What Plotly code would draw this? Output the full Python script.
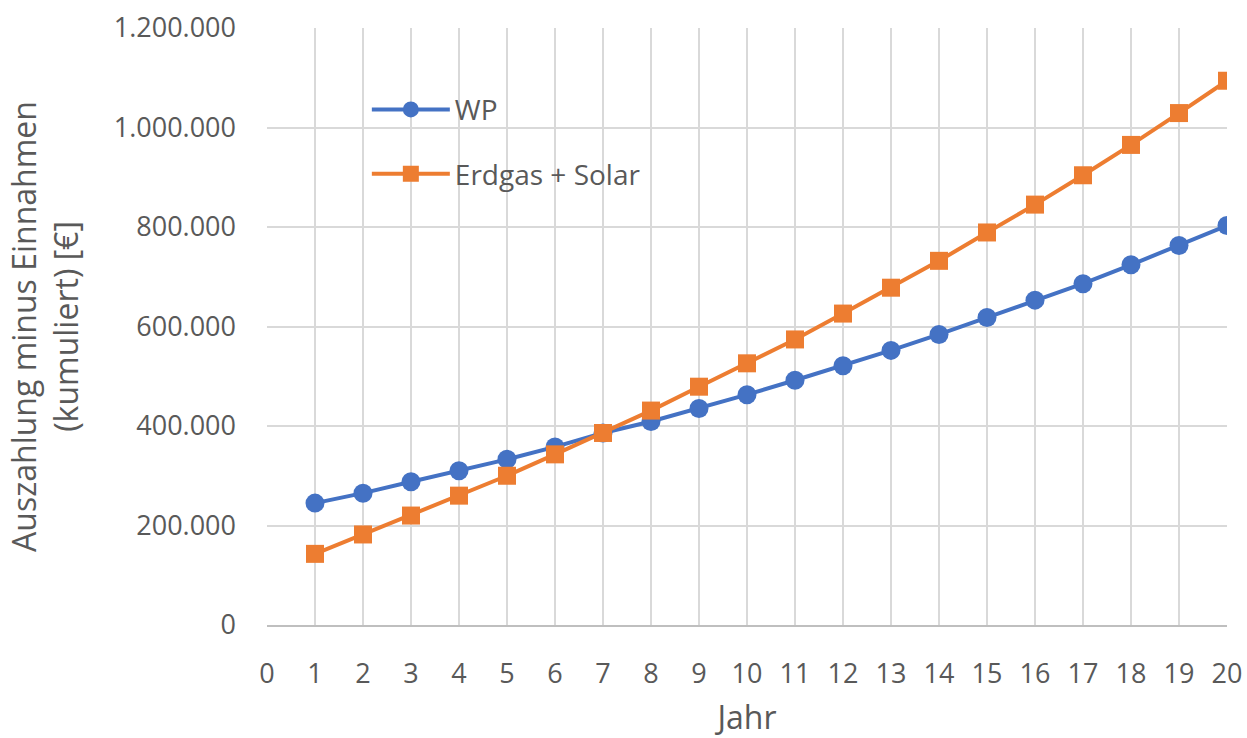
import plotly.graph_objects as go

# Jahre und kumulierte Zahlungsströme (Auszahlung minus Einnahmen) in €
jahre = list(range(1, 21))
wp = [245000, 265000, 288000, 310000, 333000, 358000, 386000, 409000, 435000, 463000,
      492000, 521000, 552000, 584000, 618000, 653000, 686000, 724000, 763000, 803000]
erdgas_solar = [143000, 182000, 220000, 260000, 300000, 343000, 386000, 431000, 479000, 526000,
                574000, 626000, 678000, 732000, 789000, 845000, 904000, 965000, 1029000, 1094000]

blau = "#4472C4"
orange = "#ED7D31"
text_grau = "#595959"
gitter = "#D9D9D9"
schrift = "Open Sans, Noto Sans, sans-serif"

x_max = 20
y_max = 1200000

fig = go.Figure()
fig.add_trace(go.Scatter(
    x=jahre, y=wp, name="WP", mode="lines+markers", legendgroup="a",
    line=dict(color=blau, width=4),
    marker=dict(symbol="circle", size=19, color=blau),
))
fig.add_trace(go.Scatter(
    x=jahre, y=erdgas_solar, name="Erdgas + Solar", mode="lines+markers", legendgroup="b",
    line=dict(color=orange, width=4),
    marker=dict(symbol="square", size=18, color=orange),
))

# weißer Hintergrund hinter der Legende (über dem Gitter, unter den Linien)
fig.add_shape(type="rect", xref="x", yref="y", layer="below",
              x0=0.095 * x_max, x1=0.404 * x_max, y0=0.703 * y_max, y1=0.921 * y_max,
              fillcolor="white", line=dict(width=0))

fig.update_layout(
    width=1247, height=738,
    margin=dict(l=267, r=20, t=28, b=113),
    paper_bgcolor="white", plot_bgcolor="white",
    separators=",.",
    font=dict(family=schrift, size=28, color=text_grau),
    showlegend=True,
    legend=dict(x=0.104, y=0.905, xanchor="left", yanchor="top",
                bgcolor="rgba(255,255,255,0)", font=dict(size=28, color=text_grau),
                tracegroupgap=25, itemwidth=78),
    xaxis=dict(range=[0, x_max], dtick=1, tick0=0, showgrid=True, gridcolor=gitter, gridwidth=2,
               zeroline=False, showline=True, linecolor="#BFBFBF", linewidth=2,
               ticks="", ticklabelstandoff=24, tickfont=dict(size=27), automargin=False,
               title=dict(text="Jahr", standoff=29, font=dict(size=32, color=text_grau))),
    yaxis=dict(range=[0, y_max], dtick=200000, tickformat=",d", showgrid=True,
               gridcolor=gitter, gridwidth=2, zeroline=False, showline=False, ticks="",
               ticklabelstandoff=30, tickfont=dict(size=27), automargin=False,
               title=dict(text="Auszahlung minus Einnahmen<br>(kumuliert) [€]", standoff=25,
                          font=dict(size=32, color=text_grau))),
)

fig.write_html("out.html")
